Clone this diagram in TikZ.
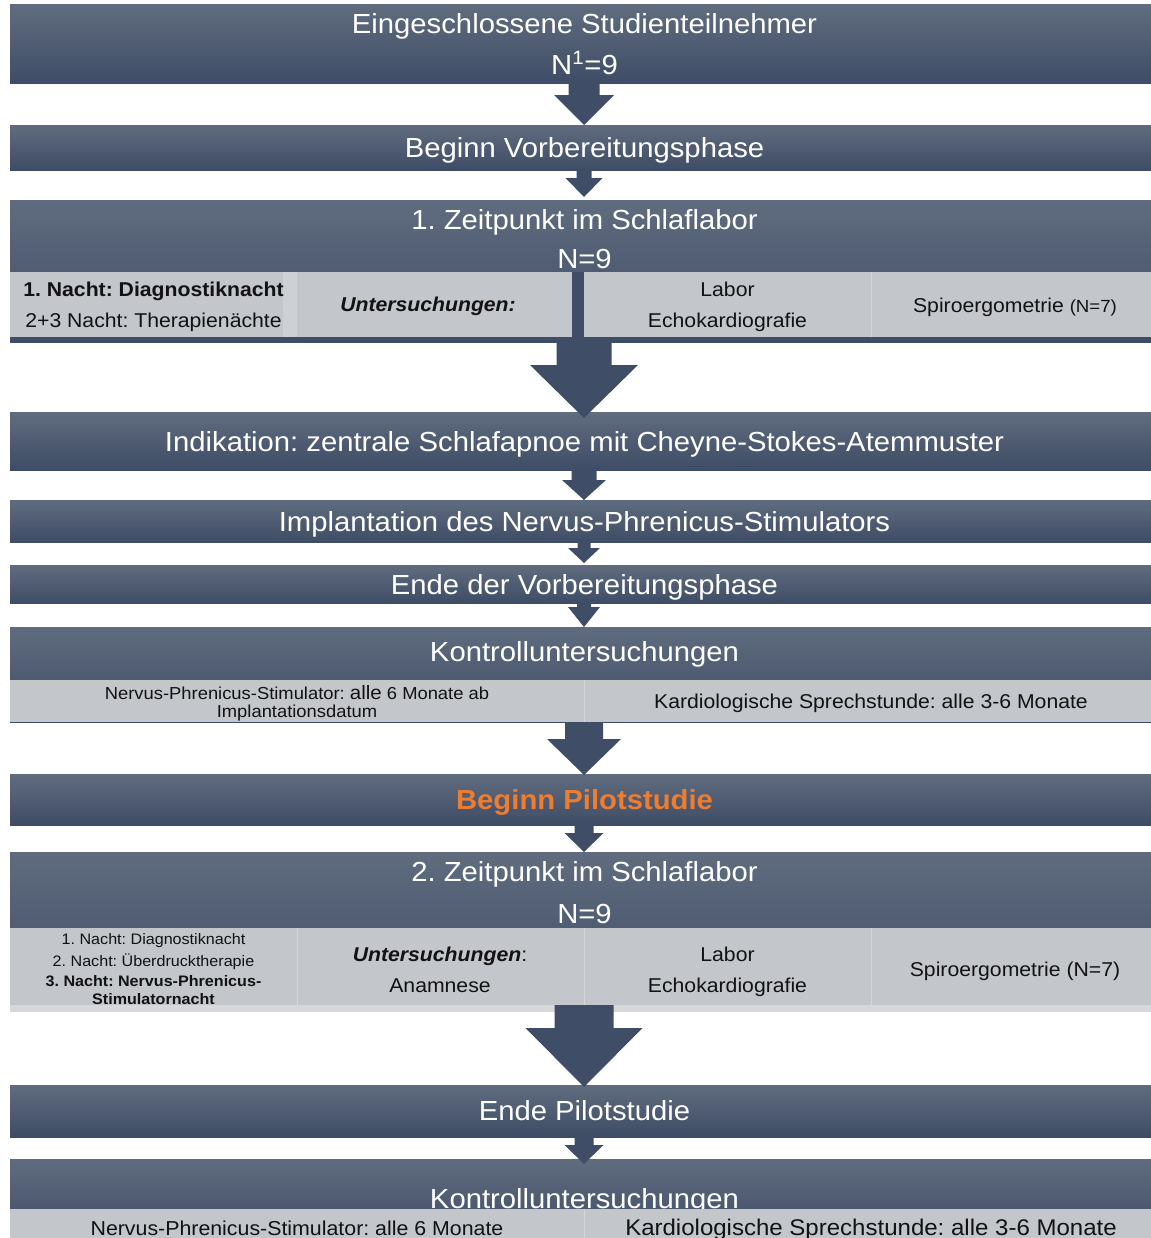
\documentclass[tikz,border=0pt]{standalone}
\usepackage{fontspec}
\setmainfont{Liberation Sans}[FakeStretch=1.06]
\frenchspacing
\definecolor{bartop}{RGB}{96,108,126}
\definecolor{barbot}{RGB}{62,76,102}
\definecolor{arrowc}{RGB}{63,77,103}
\definecolor{cellc}{RGB}{195,198,203}
\definecolor{cellhi}{RGB}{205,208,212}
\definecolor{stripc}{RGB}{214,216,220}
\definecolor{divc}{RGB}{212,214,218}
\definecolor{orangec}{RGB}{237,125,49}
\definecolor{celltxt}{RGB}{18,18,18}
\newcommand\blkarrow[5]{%
  \fill[arrowc] (584-#4,#1) -- (584+#4,#1) -- (584+#4,#2) -- (584+#5,#2) -- (584,#3)
    -- (584-#5,#2) -- (584-#4,#2) -- cycle;}
\newcommand\darkbar[2]{\shade[top color=bartop,bottom color=barbot] (10,#1) rectangle (1162,#2);}
\begin{document}
\frenchspacing
\begin{tikzpicture}[x=0.75pt,y=-0.75pt,
  bartext/.style={anchor=base,text=white,inner sep=0pt,font=\fontsize{20.7}{24}\selectfont},
  celltext/.style={anchor=base,text=celltxt,inner sep=0pt,font=\fontsize{15}{18}\selectfont},
  smalltext/.style={anchor=base,text=celltxt,inner sep=0pt,font=\fontsize{11.4}{13}\selectfont},
  divline/.style={draw=divc,line width=0.75pt}]
\useasboundingbox (0,0) rectangle (1151,1238);
\clip (0,0) rectangle (1151,1238);
% bars
\darkbar{5}{84}
\darkbar{125}{170}
\darkbar{200}{342}
\darkbar{412}{470}
\darkbar{500}{542}
\darkbar{565}{603}
\darkbar{627}{722}
\darkbar{774}{825}
\darkbar{852}{1008}
\darkbar{1085}{1137}
\darkbar{1159}{1240}
% titles in bars
\node[bartext] (tA1) at (584.5,33.5) {Eingeschlossene Studienteilnehmer};
\node[bartext] (tA2) at (584.5,74.5) {N\textsuperscript{1}=9};
\node[bartext] (tB) at (584.5,157.5) {Beginn Vorbereitungsphase};
\node[bartext] (tC1) at (584.5,229.5) {1. Zeitpunkt im Schlaflabor};
\node[bartext] (tC2) at (584.5,268.5) {N=9};
\node[bartext] (tD) at (584.5,451.5) {Indikation: zentrale Schlafapnoe mit Cheyne-Stokes-Atemmuster};
\node[bartext] (tE) at (584.5,531.5) {Implantation des Nervus-Phrenicus-Stimulators};
\node[bartext] (tF) at (584.5,594.5) {Ende der Vorbereitungsphase};
\node[bartext] (tG) at (584.5,661) {Kontrolluntersuchungen};
\node[bartext,text=orangec,font=\fontsize{20.7}{24}\selectfont\bfseries] (tH) at (584.5,809) {Beginn Pilotstudie};
\node[bartext] (tI1) at (584.5,881.5) {2. Zeitpunkt im Schlaflabor};
\node[bartext] (tI2) at (584.5,923) {N=9};
\node[bartext] (tJ) at (584.5,1120.5) {Ende Pilotstudie};
\node[bartext] (tK) at (584.5,1208) {Kontrolluntersuchungen};
% light strip under second sleep-lab block
\fill[stripc] (10,1004) rectangle (1162,1012);
% arrows
\blkarrow{84}{95}{125}{15.5}{30}
\blkarrow{170}{178}{197}{7.5}{18.5}
\blkarrow{272}{365}{418}{27.5}{54}
\blkarrow{470}{480}{500}{12.5}{22}
\blkarrow{542}{548}{563}{6.5}{16}
\blkarrow{603}{607}{627}{7}{16}
\blkarrow{722}{739}{775}{19}{37}
\blkarrow{825}{833}{852}{9.5}{19.5}
\blkarrow{1005}{1028}{1087}{29.5}{58.5}
\blkarrow{1137}{1145}{1164}{9.5}{19.5}
% cells of block C
\fill[cellc] (10,272) rectangle (283,337);
\fill[cellhi] (283,272) rectangle (297,337);
\fill[cellc] (297,272) rectangle (572,337);
\fill[cellc] (584,272) rectangle (871,337);
\fill[cellc] (872,272) rectangle (1162,337);
\draw[divline] (871.5,272) -- (871.5,337);
% cells of block G
\fill[cellc] (10,680) rectangle (1162,722);
\draw[divline] (584.5,680) -- (584.5,722);
% cells of block I
\fill[cellc] (10,928) rectangle (1162,1005);
\draw[divline] (297,928) -- (297,1005);
\draw[divline] (584.5,928) -- (584.5,1005);
\draw[divline] (871.5,928) -- (871.5,1005);
% cells of block K
\fill[cellc] (10,1209) rectangle (1162,1240);
\draw[divline] (584.5,1209) -- (584.5,1240);
% texts of block C
\node[celltext,font=\fontsize{15}{18}\selectfont\bfseries] (c11) at (153.5,296) {1. Nacht: Diagnostiknacht};
\node[celltext] (c12) at (153.5,327) {2+3 Nacht: Therapienächte};
\node[celltext,font=\fontsize{15}{18}\selectfont\bfseries\itshape] (c2) at (428,311) {Untersuchungen:};
\node[celltext] (c31) at (727.5,296) {Labor};
\node[celltext] (c32) at (727.5,327) {Echokardiografie};
\node[celltext] (c4) at (1015,312) {Spiroergometrie {\fontsize{13.2}{15}\selectfont(N=7)}};
% texts of block G
\node[celltext,font=\fontsize{13}{15}\selectfont] (g1a) at (297,699) {Nervus-Phrenicus-Stimulator: {\fontsize{14.5}{16}\selectfont alle} 6 Monate ab};
\node[celltext,font=\fontsize{13}{15}\selectfont] (g1b) at (297,717) {Implantationsdatum};
\node[celltext] (g2) at (871,708) {Kardiologische Sprechstunde: alle 3-6 Monate};
% texts of block I
\node[smalltext] (i11) at (153.5,944.5) {1. Nacht: Diagnostiknacht};
\node[smalltext] (i12) at (153.5,966) {2. Nacht: Überdrucktherapie};
\node[smalltext,font=\fontsize{11.4}{13}\selectfont\bfseries] (i13) at (153.5,986.5) {3. Nacht: Nervus-Phrenicus-};
\node[smalltext,font=\fontsize{11.4}{13}\selectfont\bfseries] (i14) at (153.5,1004) {Stimulatornacht};
\node[celltext] (i21) at (440,961) {\textbf{\textit{Untersuchungen}}:};
\node[celltext] (i22) at (440,992) {Anamnese};
\node[celltext] (i31) at (727.5,961) {Labor};
\node[celltext] (i32) at (727.5,992) {Echokardiografie};
\node[celltext] (i4) at (1015,976.5) {Spiroergometrie (N=7)};
% texts of block K
\node[celltext,font=\fontsize{15.1}{18}\selectfont] (k1) at (297,1235) {Nervus-Phrenicus-Stimulator: alle 6 Monate};
\node[celltext,font=\fontsize{17}{20}\selectfont] (k2) at (871,1235.5) {Kardiologische Sprechstunde: alle 3-6 Monate};
\end{tikzpicture}
\end{document}
